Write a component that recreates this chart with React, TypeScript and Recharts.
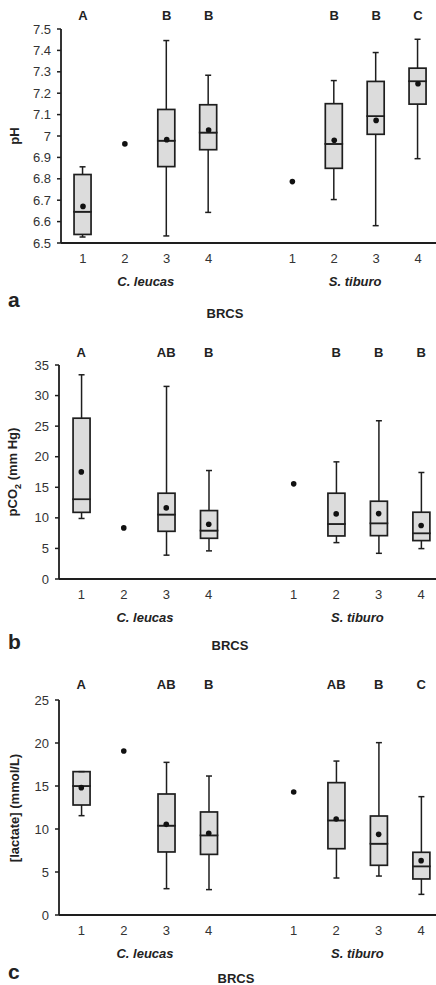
import React from 'react';
import { ComposedChart, Bar, Scatter, XAxis, YAxis } from 'recharts';

// x slots: 1-4 C. leucas, 6-9 S. tiburo (5 is the gap)
const slots = [1, 2, 3, 4, 6, 7, 8, 9];
const slotLabels = ['1', '2', '3', '4', '1', '2', '3', '4'];
const speciesPos = [2.5, 7.5];
const speciesNames = ['C. leucas', 'S. tiburo'];

// panel a: pH
const phMin = [6.528, null, 6.533, 6.643, null, 6.703, 6.581, 6.894];
const phQ1 = [6.54, null, 6.857, 6.936, null, 6.849, 7.008, 7.149];
const phMed = [6.646, null, 6.978, 7.016, null, 6.963, 7.093, 7.256];
const phQ3 = [6.82, null, 7.124, 7.146, null, 7.151, 7.255, 7.317];
const phMax = [6.856, null, 7.446, 7.284, null, 7.259, 7.39, 7.452];
const phMean = [6.671, 6.963, 6.983, 7.028, 6.787, 6.98, 7.073, 7.244];
const phLetters = ['A', '', 'B', 'B', '', 'B', 'B', 'C'];
const phTicks = [6.5, 6.6, 6.7, 6.8, 6.9, 7, 7.1, 7.2, 7.3, 7.4, 7.5];

// panel b: pCO2
const co2Min = [9.9, null, 3.9, 4.6, null, 5.95, 4.2, 4.97];
const co2Q1 = [10.9, null, 7.8, 6.66, null, 7.04, 7.09, 6.28];
const co2Med = [13.05, null, 10.54, 7.92, null, 9.0, 9.11, 7.48];
const co2Q3 = [26.3, null, 14.03, 11.19, null, 14.03, 12.72, 10.92];
const co2Max = [33.4, null, 31.5, 17.74, null, 19.16, 25.88, 17.42];
const co2Mean = [17.52, 8.36, 11.63, 8.95, 15.56, 10.65, 10.7, 8.74];
const co2Letters = ['A', '', 'AB', 'B', '', 'B', 'B', 'B'];
const co2Ticks = [0, 5, 10, 15, 20, 25, 30, 35];

// panel c: lactate
const lacMin = [11.55, null, 3.06, 2.95, null, 4.3, 4.53, 2.4];
const lacQ1 = [12.79, null, 7.33, 7.05, null, 7.71, 5.78, 4.19];
const lacMed = [15.0, null, 10.39, 9.26, null, 11.0, 8.29, 5.66];
const lacQ3 = [16.67, null, 14.07, 11.98, null, 15.39, 11.51, 7.29];
const lacMax = [16.67, null, 17.75, 16.16, null, 17.9, 20.04, 13.76];
const lacMean = [14.81, 19.07, 10.54, 9.5, 14.3, 11.16, 9.38, 6.32];
const lacLetters = ['A', '', 'AB', 'B', '', 'AB', 'B', 'C'];
const lacTicks = [0, 5, 10, 15, 20, 25];

const INK = '#1e1e1e';
const FONT = '"Liberation Sans", Arial, sans-serif';

function boxRows(mn: any[], q1: any[], med: any[], q3: any[], mx: any[]) {
  const rows: any[] = [];
  slots.forEach((s, i) => {
    if (mn[i] == null) return;
    rows.push({
      x: s,
      base: mn[i],
      lw: q1[i] - mn[i],
      bl: med[i] - q1[i],
      bu: q3[i] - med[i],
      uw: mx[i] - q3[i],
    });
  });
  return rows;
}

const Blank = () => null;

const BoxPart = (p: any) => (
  <rect x={p.x} y={p.y} width={p.width} height={Math.max(p.height, 0)} fill="#dcdcdc" stroke={INK} strokeWidth={1.7} />
);

const LowWhisker = (p: any) => {
  const cx = p.x + p.width / 2;
  const yb = p.y + p.height;
  return (
    <g>
      <line x1={cx} x2={cx} y1={p.y} y2={yb} stroke={INK} strokeWidth={1.5} />
      <line x1={cx - 3} x2={cx + 3} y1={yb} y2={yb} stroke={INK} strokeWidth={1.5} />
    </g>
  );
};

const HighWhisker = (p: any) => {
  const cx = p.x + p.width / 2;
  return (
    <g>
      <line x1={cx} x2={cx} y1={p.y} y2={p.y + p.height} stroke={INK} strokeWidth={1.5} />
      <line x1={cx - 3} x2={cx + 3} y1={p.y} y2={p.y} stroke={INK} strokeWidth={1.5} />
    </g>
  );
};

interface PanelProps {
  top: number;
  plotH: number;
  axisX: number;
  xMax: number;
  domain: [number, number];
  ticks: number[];
  rows: any[];
  mean: number[];
  letters: string[];
  letterGap: number;
  yLabel: React.ReactNode;
  tag: string;
  tagTop: number;
  brcsTop: number;
  brcsX: number;
}

function Panel(props: PanelProps) {
  const { top, plotH, axisX, xMax, domain, ticks, rows, mean, letters, letterGap } = props;
  const marginTop = 29;
  const height = marginTop + plotH + 28 + 24;
  const meanPts = slots.map((s, i) => ({ x: s, y: mean[i] }));
  const letterPts = slots.map((s, i) => ({ x: s, y: domain[1], t: letters[i] })).filter(d => d.t);

  return (
    <>
      <div style={{ position: 'absolute', left: 0, top }}>
        <ComposedChart width={436} height={height} data={rows} margin={{ top: marginTop, right: 0, left: 0, bottom: 0 }}>
          <XAxis
            dataKey="x"
            type="number"
            domain={[0.475, xMax]}
            ticks={slots}
            tickFormatter={(v: number) => slotLabels[slots.indexOf(v)]}
            allowDataOverflow
            tickLine={false}
            tickMargin={5}
            height={28}
            axisLine={{ stroke: INK, strokeWidth: 1.8 }}
            tick={{ fill: '#333', fontSize: 13, fontFamily: FONT }}
          />
          <XAxis
            xAxisId="sp"
            dataKey="x"
            type="number"
            domain={[0.475, xMax]}
            ticks={speciesPos}
            tickFormatter={(v: number) => speciesNames[speciesPos.indexOf(v)]}
            allowDataOverflow
            axisLine={false}
            tickLine={false}
            tickMargin={0}
            height={24}
            tick={{ fill: '#222', fontSize: 13, fontFamily: FONT, fontWeight: 700, fontStyle: 'italic' }}
          />
          <YAxis
            type="number"
            domain={domain}
            ticks={ticks}
            allowDataOverflow
            width={axisX}
            tickSize={4}
            tickMargin={6}
            axisLine={{ stroke: INK, strokeWidth: 1.8 }}
            tickLine={{ stroke: INK, strokeWidth: 1.5 }}
            tick={{ fill: '#333', fontSize: 13, fontFamily: FONT }}
          />
          <YAxis yAxisId="top" type="number" domain={domain} hide />
          <Bar dataKey="base" stackId="b" barSize={17} shape={Blank} isAnimationActive={false} />
          <Bar dataKey="lw" stackId="b" barSize={17} shape={LowWhisker} isAnimationActive={false} />
          <Bar dataKey="bl" stackId="b" barSize={17} shape={BoxPart} isAnimationActive={false} />
          <Bar dataKey="bu" stackId="b" barSize={17} shape={BoxPart} isAnimationActive={false} />
          <Bar dataKey="uw" stackId="b" barSize={17} shape={HighWhisker} isAnimationActive={false} />
          <Scatter
            data={meanPts}
            dataKey="y"
            isAnimationActive={false}
            shape={(p: any) => <circle cx={p.cx} cy={p.cy} r={2.8} fill="#111" />}
          />
          <Scatter
            data={letterPts}
            dataKey="y"
            yAxisId="top"
            isAnimationActive={false}
            shape={(p: any) => (
              <text x={p.cx} y={p.cy - letterGap} textAnchor="middle" dominantBaseline="central"
                fontFamily={FONT} fontSize={13} fontWeight={700} fill="#222">
                {p.payload.t}
              </text>
            )}
          />
        </ComposedChart>
      </div>
      <div style={{
        position: 'absolute', left: 14, top: top + marginTop + plotH / 2,
        transform: 'translate(-50%, -50%) rotate(-90deg)', whiteSpace: 'nowrap',
        fontFamily: FONT, fontWeight: 700, fontSize: 13, color: '#222',
      }}>
        {props.yLabel}
      </div>
      <div style={{ position: 'absolute', left: 8, top: props.tagTop, fontFamily: FONT, fontWeight: 700, fontSize: 21, color: '#222', lineHeight: '22px' }}>
        {props.tag}
      </div>
      <div style={{ position: 'absolute', left: props.brcsX, top: props.brcsTop, transform: 'translateX(-50%)', fontFamily: FONT, fontWeight: 700, fontSize: 13, color: '#222', lineHeight: '15px' }}>
        BRCS
      </div>
    </>
  );
}

export default function App() {
  return (
    <div style={{ position: 'absolute', left: 0, top: 0, width: 436, height: 985, background: '#fff' }}>
      <Panel
        top={0} plotH={214} axisX={61} xMax={9.43} domain={[6.5, 7.5]} ticks={phTicks}
        rows={boxRows(phMin, phQ1, phMed, phQ3, phMax)} mean={phMean} letters={phLetters} letterGap={14}
        yLabel="pH" tag="a" tagTop={289} brcsTop={306} brcsX={225}
      />
      <Panel
        top={336} plotH={214} axisX={59} xMax={9.35} domain={[0, 35]} ticks={co2Ticks}
        rows={boxRows(co2Min, co2Q1, co2Med, co2Q3, co2Max)} mean={co2Mean} letters={co2Letters} letterGap={13}
        yLabel={<span>pCO<sub style={{ fontSize: 9 }}>2</sub> (mm Hg)</span>} tag="b" tagTop={631} brcsTop={638} brcsX={230}
      />
      <Panel
        top={671} plotH={215} axisX={59} xMax={9.35} domain={[0, 25]} ticks={lacTicks}
        rows={boxRows(lacMin, lacQ1, lacMed, lacQ3, lacMax)} mean={lacMean} letters={lacLetters} letterGap={16}
        yLabel="[lactate] (mmol/L)" tag="c" tagTop={961} brcsTop={971} brcsX={236}
      />
    </div>
  );
}
